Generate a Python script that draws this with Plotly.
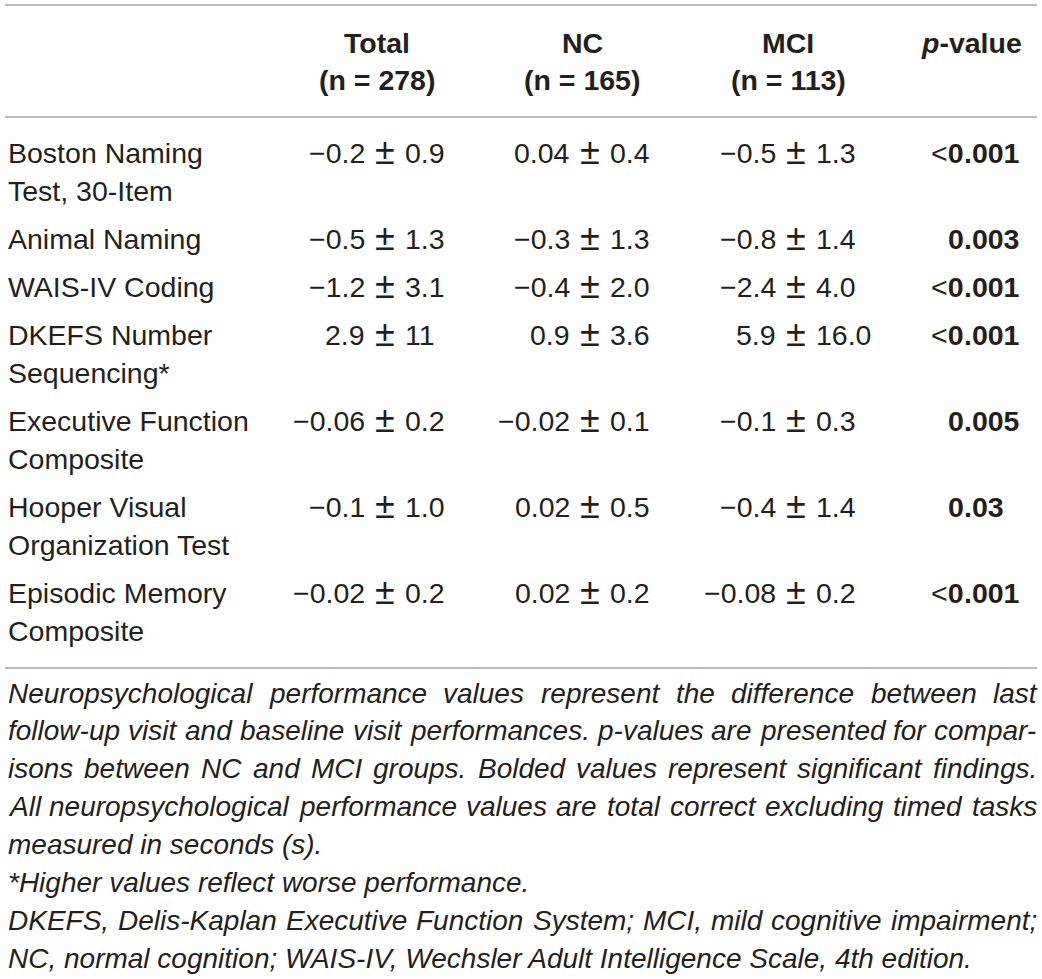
import plotly.graph_objects as go

# ------------------------------------------------------------
# DATA
# ------------------------------------------------------------

groups = ["Total", "NC", "MCI"]
group_n = [278, 165, 113]

measures = [
    "Boston Naming<br>Test, 30-Item",
    "Animal Naming",
    "WAIS-IV Coding",
    "DKEFS Number<br>Sequencing*",
    "Executive Function<br>Composite",
    "Hooper Visual<br>Organization Test",
    "Episodic Memory<br>Composite",
]

total_mean = ["−0.2", "−0.5", "−1.2", "2.9", "−0.06", "−0.1", "−0.02"]
total_sd = ["0.9", "1.3", "3.1", "11", "0.2", "1.0", "0.2"]
nc_mean = ["0.04", "−0.3", "−0.4", "0.9", "−0.02", "0.02", "0.02"]
nc_sd = ["0.4", "1.3", "2.0", "3.6", "0.1", "0.5", "0.2"]
mci_mean = ["−0.5", "−0.8", "−2.4", "5.9", "−0.1", "−0.4", "−0.08"]
mci_sd = ["1.3", "1.4", "4.0", "16.0", "0.3", "1.4", "0.2"]
p_values = ["<0.001", "0.003", "<0.001", "<0.001", "0.005", "0.03", "<0.001"]

footnotes = [
    "Neuropsychological performance values represent the difference between last",
    "follow-up visit and baseline visit performances. p-values are presented for compar-",
    "isons between NC and MCI groups. Bolded values represent significant findings.",
    "All neuropsychological performance values are total correct excluding timed tasks",
    "measured in seconds (s).",
    "*Higher values reflect worse performance.",
    "DKEFS, Delis-Kaplan Executive Function System; MCI, mild cognitive impairment;",
    "NC, normal cognition; WAIS-IV, Wechsler Adult Intelligence Scale, 4th edition.",
]
justified = [True, True, True, True, False, False, True, False]

# ------------------------------------------------------------
# LAYOUT (pixel-like coordinates)
# ------------------------------------------------------------

W, H = 1042, 979
FONT = "Liberation Sans, Arial, Helvetica, sans-serif"
TXT = "#231f20"
RULE = "#a3a3a3"
FS = 28.5
FS_PM = 36
FS_NOTE = 28

LABEL_X = 8
RIGHT_X = 1037
HEAD_X = [377, 582, 788]
PVAL_HEAD_X = 971
PM_X = [385, 590, 796]      # column of the "±" signs
PM_GAP = 20
P_DEC_X = 964               # decimal point of the p-values

LINE_H = 38
ROW_PAD = 48
FIRST_ROW_Y = 153
NOTE_Y = 693
NOTE_H = 37.9

# Arial / Liberation Sans advance widths (1/1000 em), used to justify notes
_w = {" ": 278, "-": 333, ".": 278, ",": 278, ";": 278, ":": 278,
      "(": 333, ")": 333, "*": 389}
_w.update({d: 556 for d in "0123456789"})
_w.update(dict(zip("ABCDEFGHIJKLMNOPQRSTUVWXYZ",
                   [667, 667, 722, 722, 667, 611, 778, 722, 278, 500, 667, 556, 833,
                    722, 778, 667, 778, 722, 667, 611, 722, 667, 944, 667, 667, 611])))
_w.update(dict(zip("abcdefghijklmnopqrstuvwxyz",
                   [556, 556, 500, 556, 556, 278, 556, 556, 222, 222, 500, 222, 833,
                    556, 556, 556, 556, 333, 500, 278, 556, 500, 722, 500, 500, 500])))


def text_width(s, size):
    return sum(_w.get(ch, 556) for ch in s) / 1000 * size


means = [total_mean, nc_mean, mci_mean]
sds = [total_sd, nc_sd, mci_sd]

ann = []


def add(text, x, y, xanchor="left", size=FS, italic=False, yshift=0):
    ann.append(dict(
        text=text, x=x, y=y, xref="x", yref="y",
        xanchor=xanchor, yanchor="middle", showarrow=False,
        borderpad=0, borderwidth=0, yshift=yshift,
        font=dict(family=FONT, size=size, color=TXT,
                  style="italic" if italic else "normal"),
    ))


# header
for g, n, hx in zip(groups, group_n, HEAD_X):
    add(f"<b>{g}</b>", hx, 43, "center")
    add(f"<b>(n = {n})</b>", hx, 80, "center")
add("<b><i>p</i>-value</b>", PVAL_HEAD_X, 43, "center")

# body
y = FIRST_ROW_Y
for i, label in enumerate(measures):
    lines = label.split("<br>")
    for k, ln in enumerate(lines):
        add(ln, LABEL_X, y + k * LINE_H)
    for c in range(3):
        add(means[c][i], PM_X[c] - PM_GAP, y, "right")
        add("±", PM_X[c], y, "center", size=FS_PM, yshift=2)
        add(sds[c][i], PM_X[c] + PM_GAP, y, "left")
    p = p_values[i]
    prefix = "&lt;" if p.startswith("<") else ""
    whole, frac = p.lstrip("<").split(".")
    add(f"{prefix}<b>{whole}</b>", P_DEC_X, y, "right")
    add(f"<b>.{frac}</b>", P_DEC_X, y, "left")
    y += LINE_H * (len(lines) - 1) + ROW_PAD

# footnote
for j, ln in enumerate(footnotes):
    ny = NOTE_Y + j * NOTE_H
    if not justified[j]:
        add(ln, LABEL_X, ny, "left", size=FS_NOTE, italic=True)
        continue
    words = ln.split(" ")
    widths = [text_width(wd, FS_NOTE) for wd in words]
    gap = (RIGHT_X - LABEL_X - sum(widths)) / (len(words) - 1)
    x = LABEL_X
    for wd, ww in zip(words, widths):
        add(wd, x, ny, "left", size=FS_NOTE, italic=True)
        x += ww + gap

rules = [5, 117, 668]
shapes = [dict(type="line", xref="x", yref="y", x0=5, x1=RIGHT_X, y0=r, y1=r,
               line=dict(color=RULE, width=1.5)) for r in rules]

fig = go.Figure(go.Scatter(x=[0, W], y=[0, H], mode="markers",
                           marker=dict(opacity=0), hoverinfo="skip",
                           showlegend=False))

fig.update_layout(
    width=W, height=H,
    paper_bgcolor="white", plot_bgcolor="white",
    margin=dict(l=0, r=0, t=0, b=0),
    xaxis=dict(range=[0, W], visible=False, fixedrange=True),
    yaxis=dict(range=[H, 0], visible=False, fixedrange=True),
    annotations=ann,
    shapes=shapes,
    showlegend=False,
)

fig.write_html("out.html", config=dict(displayModeBar=False),
               post_script="document.body.style.margin='0';"
                           "document.body.style.overflow='hidden';")
